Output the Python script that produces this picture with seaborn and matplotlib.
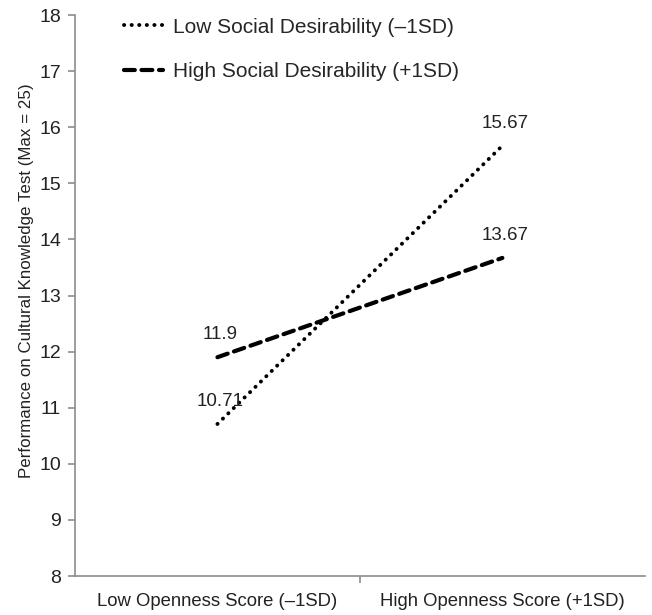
import numpy as np
import pandas as pd
import matplotlib.pyplot as plt
import seaborn as sns

# Datos del grafico
categorias = ['Low Openness Score (–1SD)', 'High Openness Score (+1SD)']
low_sd = [10.71, 15.67]
high_sd = [11.9, 13.67]
series = ['Low Social Desirability (–1SD)', 'High Social Desirability (+1SD)']

sns.set_theme(style='white')
plt.rcParams['font.family'] = ['Liberation Sans', 'DejaVu Sans']

fig, ax = plt.subplots(figsize=(6.52, 6.15), dpi=100)
fig.subplots_adjust(left=0.115, right=0.989, bottom=0.0634, top=0.9756)

# Linea punteada (baja deseabilidad social)
sns.lineplot(x=categorias, y=low_sd, ax=ax, color='black', lw=2.8,
             linestyle=(0, (0.05, 1.9)), dash_capstyle='round', label=series[0])
# Linea discontinua (alta deseabilidad social)
sns.lineplot(x=categorias, y=high_sd, ax=ax, color='black', lw=3.0,
             linestyle=(0, (2.6, 1.6)), dash_capstyle='round', label=series[1])

# Etiquetas de valores
for vals in (low_sd, high_sd):
    for i, v in enumerate(vals):
        ax.annotate(f'{v:g}', (i, v), xytext=(2, 10), textcoords='offset points',
                    ha='center', va='bottom', fontsize=13.5, color='#222222')

ax.set_xlim(-0.5, 1.5)
ax.set_ylim(8, 18)
ax.set_yticks(range(8, 19))
ax.set_ylabel('Performance on Cultural Knowledge Test (Max = 25)', fontsize=12.2,
              color='#222222')
ax.yaxis.set_label_coords(-0.072, 0.526)
ax.set_xlabel('')

# Ejes estilo Excel
sns.despine(ax=ax)
for s in ('left', 'bottom'):
    ax.spines[s].set_color('#8c8c8c')
    ax.spines[s].set_linewidth(1.2)
ax.tick_params(axis='y', left=True, length=5, width=1.2, color='#8c8c8c',
               labelsize=14, labelcolor='#222222', pad=5)
ax.tick_params(axis='x', bottom=False, labelsize=13.3, labelcolor='#222222', pad=6)
ax.set_xticks([0.5], minor=True)
ax.tick_params(axis='x', which='minor', bottom=True, length=5, width=1.2, color='#8c8c8c')

ax.legend(loc='upper left', bbox_to_anchor=(0.068, 1.014), frameon=False,
          fontsize=15, handlelength=1.85, handletextpad=0.48, labelspacing=1.24,
          borderpad=0)

fig.savefig('out.png', dpi=100)
